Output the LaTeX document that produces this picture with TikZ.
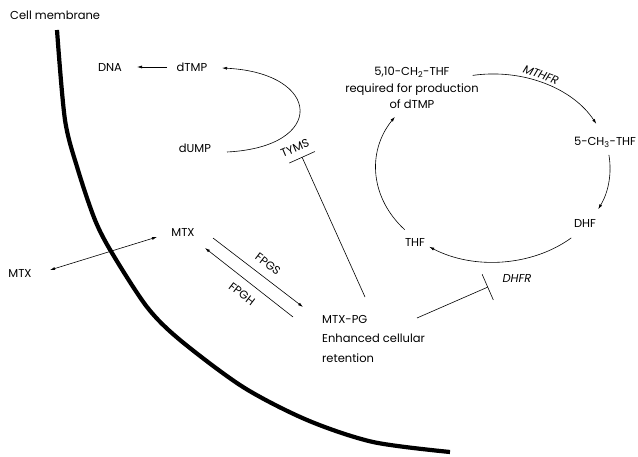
\documentclass[tikz,border=0pt]{standalone}
\usepackage{fontspec}
\setmainfont{Poppins}
\usetikzlibrary{arrows.meta}
\begin{document}
\begin{tikzpicture}[x=1pt,y=-1pt,
  font=\fontsize{11.5}{16.5}\selectfont,
  lbl/.style={inner sep=0pt},
  enz/.style={inner sep=0pt,font=\fontsize{11.5}{16.5}\selectfont\itshape},
  arr/.style={line width=0.6pt,-{Latex[length=5pt,width=3pt]}},
  darr/.style={line width=0.6pt,{Latex[length=5pt,width=3pt]}-{Latex[length=5pt,width=3pt]}},
  inh/.style={line width=0.6pt,-{Bar[width=28pt,line width=0.6pt]}},
  membrane/.style={line width=4.2pt}]
\useasboundingbox (0,0) rectangle (638,457);
% membrane
\draw[membrane] plot[smooth,tension=0.5] coordinates {(57,30) (65,120) (78,170) (95,220) (112,253) (147,307) (180,340) (243,387) (307,420) (373,442) (450,452)};
% nodes
\node[lbl,anchor=west] (cm) at (10,15) {Cell membrane};
\node[lbl] (dna) at (110,67) {DNA};
\node[lbl] (dtmp) at (192,67) {dTMP};
\node[lbl] (dump) at (195,148) {dUMP};
\node[lbl,rotate=23] (tyms) at (295,148) {TYMS};
\node[lbl] (mtxi) at (183,232) {MTX};
\node[lbl] (mtxo) at (20,273) {MTX};
\node[lbl,rotate=-37.5] (fpgs) at (268,264) {FPGS};
\node[lbl,rotate=-37.5] (fpgh) at (242,294) {FPGH};
\node[lbl,align=left,anchor=north west,font=\fontsize{11.5}{19.5}\selectfont] (mtxpg) at (322,315) {MTX-PG\\Enhanced cellular\\retention};
\node[lbl,align=center] (mthf) at (412,88) {5,10-CH\textsubscript{2}-THF\\required for production\\of dTMP};
\node[enz,rotate=-21] (mthfr) at (541,75) {MTHFR};
\node[lbl] (ch3) at (605,142) {5-CH\textsubscript{3}-THF};
\node[lbl] (dhf) at (585,223) {DHF};
\node[lbl] (thf) at (415,242) {THF};
\node[enz] (dhfr) at (517,278) {DHFR};
% coordinates for connector ends
\coordinate (dnatip) at (137,67);
\coordinate (dtmpout) at (167,67);
\coordinate (tymsbar) at (302,157);
\coordinate (pgtop) at (365,297);
\coordinate (pgright) at (417,318);
\coordinate (dhfrbar) at (488,287);
\coordinate (mtxoend) at (50,270);
\coordinate (mtxiend) at (157,237);
\coordinate (fpgss) at (213,238);
\coordinate (fpgse) at (303,307);
\coordinate (fpghs) at (293,317);
\coordinate (fpghe) at (205,248);
\coordinate (c1s) at (472.7,75.4);
\coordinate (c1e) at (596.3,123.9);
\coordinate (c2s) at (608.9,154.9);
\coordinate (c2e) at (598.2,209.2);
\coordinate (c3s) at (571.3,237.9);
\coordinate (c3e) at (429.3,246.8);
\coordinate (c4s) at (404.7,229.7);
\coordinate (c4e) at (394.9,116.8);
\coordinate (us) at (227,152);
\coordinate (ue) at (222,68);
% connectors
\draw[arr] (dtmpout) -- (dnatip);
\draw[arr] (us) .. controls +(100,-5) and +(100,5) .. (ue);
\draw[inh] (pgtop) -- (tymsbar);
\draw[inh] (pgright) -- (dhfrbar);
\draw[darr] (mtxoend) -- (mtxiend);
\draw[arr] (fpgss) -- (fpgse);
\draw[arr] (fpghs) -- (fpghe);
\draw[arr] (c1s) .. controls +(49.9,-7.1) and +(-23.8,-36.0) .. (c1e);
\draw[arr] (c2s) .. controls +(3.2,18.6) and +(10.2,-16.8) .. (c2e);
\draw[arr] (c3s) .. controls +(-39.3,28.5) and +(44.4,23.2) .. (c3e);
\draw[arr] (c4s) .. controls +(-34.3,-31.6) and +(-28.4,35.2) .. (c4e);
\end{tikzpicture}
\end{document}
